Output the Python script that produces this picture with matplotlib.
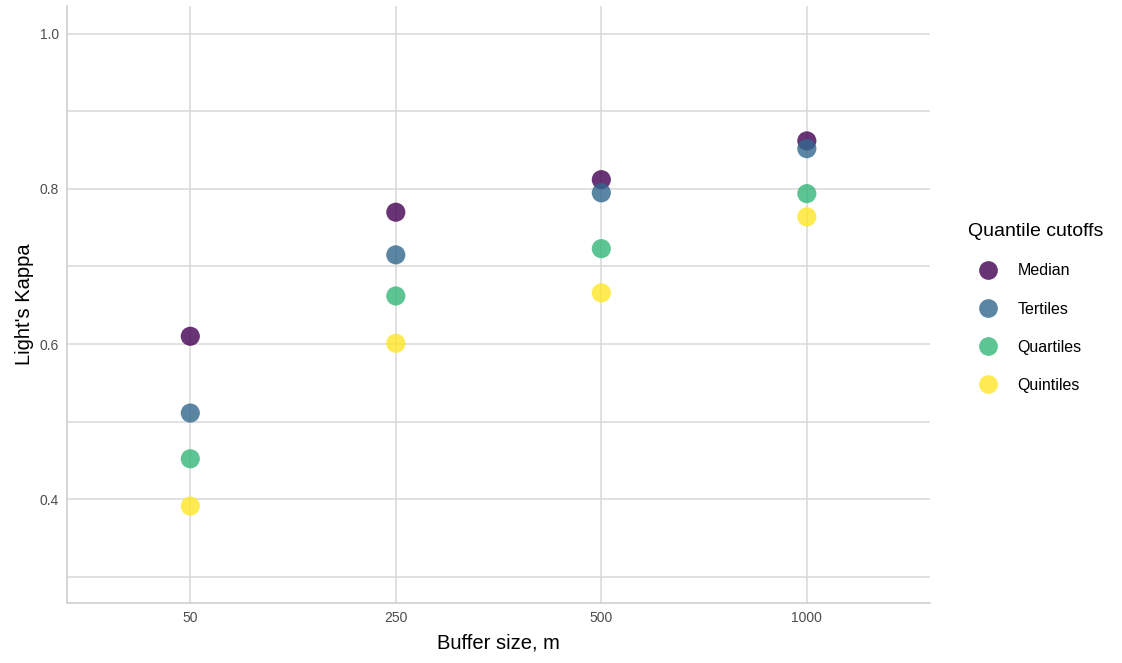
import numpy as np
import matplotlib.pyplot as plt
from matplotlib.lines import Line2D

plt.rcParams['font.family'] = ['Liberation Sans', 'DejaVu Sans']

buffers = ['50', '250', '500', '1000']
groups = ['Median', 'Tertiles', 'Quartiles', 'Quintiles']
colors = ['#440154', '#31688E', '#35B779', '#FDE725']
median = [0.610, 0.770, 0.812, 0.862]
tertiles = [0.511, 0.715, 0.795, 0.852]
quartiles = [0.452, 0.662, 0.723, 0.794]
quintiles = [0.391, 0.601, 0.666, 0.764]
values = [median, tertiles, quartiles, quintiles]

fig = plt.figure(figsize=(11.22, 6.63), dpi=100)
ax = fig.add_axes([0.0597, 0.0905, 0.7693, 0.9005])

x = np.arange(len(buffers))
for name, col, vals in zip(groups, colors, values):
    ax.scatter(x, vals, s=190, color=col, alpha=0.8, edgecolors='none', zorder=3, label=name)

ax.set_xlim(-0.6, 3.6)
ax.set_ylim(0.266, 1.036)
ax.set_xticks(x)
ax.set_xticklabels(buffers)
ax.set_yticks([0.4, 0.6, 0.8, 1.0])
ax.set_yticks([0.3, 0.5, 0.7, 0.9], minor=True)
ax.grid(True, which='both', color='#d9d9d9', lw=1.1, zorder=0)
ax.tick_params(which='both', length=0, labelsize=10, labelcolor='#4d4d4d', pad=6)
for s in ['top', 'right']:
    ax.spines[s].set_visible(False)
for s in ['left', 'bottom']:
    ax.spines[s].set_color('#cccccc')
    ax.spines[s].set_linewidth(1.1)

ax.set_xlabel('Buffer size, m', fontsize=14.5, labelpad=6)
ax.set_ylabel("Light's Kappa", fontsize=14.5, labelpad=4)

handles = [Line2D([], [], marker='o', ls='none', ms=13.5, color=c, alpha=0.8, mec='none') for c in colors]
leg = fig.legend(handles, groups, title='Quantile cutoffs', loc='upper left',
                 bbox_to_anchor=(0.85, 0.685), frameon=False, fontsize=11.5,
                 title_fontsize=14, labelspacing=1.45, handlelength=2.5,
                 handletextpad=0.6, alignment='left')

fig.savefig('out.png', dpi=100)
